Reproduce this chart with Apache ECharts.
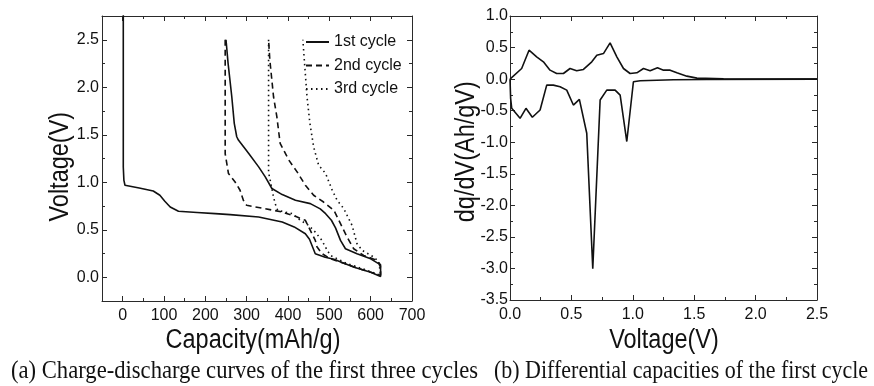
<!DOCTYPE html>
<html>
<head>
<meta charset="utf-8">
<script src="https://cdn.jsdelivr.net/npm/echarts@6/dist/echarts.min.js"></script>
<style>
html,body{margin:0;padding:0;background:#fff;}
#chart{width:874px;height:386px;}
</style>
</head>
<body>
<div id="chart"></div>
<script>
// ---- Panel (a): charge-discharge curves ----
const cycleNames = ['1st cycle', '2nd cycle', '3rd cycle'];
const cap1 = [1.5, 1.5, 3, 5.6, 40, 74, 90, 102, 115, 135, 180, 224, 260, 329, 386, 415, 442, 452, 466, 490, 511, 540, 560, 600, 624, 626, 624, 620, 600, 567, 539, 527, 515, 505, 491, 478, 454, 418, 386, 361, 345, 329, 305, 280, 276, 270, 264, 255, 250];
const volt1 = [3.0, 1.16, 1.02, 0.968, 0.94, 0.908, 0.863, 0.80, 0.74, 0.694, 0.682, 0.670, 0.659, 0.634, 0.581, 0.53, 0.458, 0.40, 0.247, 0.21, 0.19, 0.14, 0.106, 0.053, 0.007, 0.02, 0.106, 0.141, 0.194, 0.247, 0.30, 0.388, 0.52, 0.60, 0.669, 0.72, 0.775, 0.81, 0.870, 0.934, 1.056, 1.162, 1.303, 1.444, 1.479, 1.62, 1.90, 2.254, 2.5];
const cap2 = [248, 248, 256, 272, 284, 292, 300, 345, 385, 418, 442, 454, 466, 470, 482, 500, 540, 580, 624, 625, 624, 612, 583, 559, 543, 527, 511, 486, 462, 442, 422, 402, 381, 373, 365, 356, 353];
const volt2 = [2.5, 1.3, 1.092, 1.003, 0.916, 0.81, 0.757, 0.722, 0.687, 0.641, 0.599, 0.493, 0.388, 0.32, 0.25, 0.2, 0.14, 0.08, 0.02, 0.03, 0.13, 0.184, 0.229, 0.30, 0.423, 0.564, 0.705, 0.792, 0.863, 0.969, 1.109, 1.233, 1.409, 1.69, 1.90, 2.289, 2.5];
const cap3 = [353, 353, 357, 365, 369, 375, 410, 430, 450, 466, 482, 495, 503, 540, 580, 624, 625, 620, 608, 580, 567, 555, 535, 519, 507, 491, 474, 462, 453, 446, 440, 436];
const volt3 = [2.5, 1.1, 1.02, 0.845, 0.775, 0.704, 0.67, 0.599, 0.546, 0.475, 0.388, 0.282, 0.229, 0.15, 0.09, 0.02, 0.03, 0.16, 0.211, 0.282, 0.353, 0.546, 0.722, 0.81, 0.916, 1.092, 1.18, 1.373, 1.62, 1.90, 2.254, 2.5];
const capTicks = [0, 100, 200, 300, 400, 500, 600, 700];
const capMinorTicks = [-50, 50, 150, 250, 350, 450, 550, 650];
const voltTicksA = [0, 0.5, 1.0, 1.5, 2.0, 2.5];
const voltMinorTicksA = [-0.25, 0.25, 0.75, 1.25, 1.75, 2.25, 2.75];

// ---- Panel (b): differential capacity ----
const vCharge = [0, 0.095, 0.155, 0.217, 0.272, 0.326, 0.38, 0.435, 0.489, 0.543, 0.598, 0.666, 0.707, 0.761, 0.815, 0.87, 0.924, 0.978, 1.033, 1.087, 1.141, 1.201, 1.25, 1.304, 1.359, 1.44, 1.522, 1.739, 2.147, 2.5];
const dqCharge = [0, 0.168, 0.458, 0.353, 0.274, 0.142, 0.089, 0.089, 0.168, 0.132, 0.153, 0.274, 0.379, 0.405, 0.574, 0.353, 0.168, 0.089, 0.1, 0.168, 0.132, 0.179, 0.142, 0.142, 0.1, 0.047, 0.016, 0.005, 0, 0];
const vDischarge = [0, 0.005, 0.014, 0.082, 0.13, 0.182, 0.245, 0.299, 0.353, 0.408, 0.462, 0.516, 0.565, 0.625, 0.674, 0.734, 0.788, 0.856, 0.897, 0.951, 1.005, 1.06, 1.332, 1.603, 2.5];
const dqDischarge = [0, -0.3, -0.463, -0.621, -0.463, -0.605, -0.489, -0.095, -0.095, -0.121, -0.174, -0.411, -0.321, -0.858, -3.005, -0.332, -0.174, -0.174, -0.253, -0.989, -0.042, -0.026, -0.011, -0.005, 0];
const vTicksB = [0, 0.5, 1.0, 1.5, 2.0, 2.5];
const vMinorTicksB = [0.25, 0.75, 1.25, 1.75, 2.25];
const dqTicks = [-3.5, -3.0, -2.5, -2.0, -1.5, -1.0, -0.5, 0, 0.5, 1.0];
const dqMinorTicks = [-3.25, -2.75, -2.25, -1.75, -1.25, -0.75, -0.25, 0.25, 0.75];

const zip = (a, b) => a.map((v, i) => [v, b[i]]);
const AX = '#2a2a2a';
const SANS = '"Liberation Sans", Arial, sans-serif';
const SERIF = '"Liberation Serif", "Times New Roman", serif';

function makeAxes(dim, gridIndex, min, max, major, minor, fmt, margin) {
  const pos = dim === 'x' ? ['bottom', 'top'] : ['left', 'right'];
  const out = [];
  pos.forEach((p, pi) => {
    [major, minor].forEach((vals, mi) => {
      const withLabel = pi === 0 && mi === 0;
      out.push({
        type: 'value', gridIndex, min, max, position: p,
        axisLine: { show: mi === 0, onZero: false, lineStyle: { color: AX, width: 1 } },
        axisTick: { show: true, inside: true, length: mi === 0 ? 5 : 3, customValues: vals, lineStyle: { color: AX, width: 1 } },
        axisLabel: withLabel ? { show: true, customValues: vals, formatter: fmt, margin, fontSize: 16, color: '#111', fontFamily: SANS } : { show: false },
        splitLine: { show: false }, minorTick: { show: false }
      });
    });
  });
  return out;
}

const fmt1 = v => Number(v).toFixed(1);
const fmt0 = v => String(Math.round(v));

const xAxes = [].concat(
  makeAxes('x', 0, -50, 700, capTicks, capMinorTicks, fmt0, 7),
  makeAxes('x', 1, 0, 2.5, vTicksB, vMinorTicksB, fmt1, 7)
);
const yAxes = [].concat(
  makeAxes('y', 0, -0.25, 2.75, voltTicksA, voltMinorTicksA, fmt1, 3),
  makeAxes('y', 1, -3.5, 1.0, dqTicks, dqMinorTicks, fmt1, 2)
);

const lineTypes = ['solid', [6, 4], [1.5, 3.5]];
const capData = [zip(cap1, volt1), zip(cap2, volt2), zip(cap3, volt3)];
const series = cycleNames.map((n, i) => ({
  name: n, type: 'line', xAxisIndex: 0, yAxisIndex: 0, data: capData[i],
  symbol: 'none', clip: true, silent: true,
  lineStyle: { color: '#111', width: 1.6, type: lineTypes[i] },
  itemStyle: { color: '#111' }
}));
series.push(
  { name: 'charge', type: 'line', xAxisIndex: 4, yAxisIndex: 4, data: zip(vCharge, dqCharge), symbol: 'none', silent: true, lineStyle: { color: '#111', width: 1.6 } },
  { name: 'discharge', type: 'line', xAxisIndex: 4, yAxisIndex: 4, data: zip(vDischarge, dqDischarge), symbol: 'none', silent: true, lineStyle: { color: '#111', width: 1.6 } }
);

function label(text, x, y, size, opts) {
  return {
    type: 'text', x, y, scaleX: opts.sx || 1, scaleY: 1, rotation: opts.rot || 0,
    style: { text, font: size + 'px ' + (opts.family || SANS), fill: '#111', textAlign: opts.align || 'center', textVerticalAlign: 'middle' }
  };
}

const chart = echarts.init(document.getElementById('chart'), null, { renderer: 'canvas' });
chart.setOption({
  backgroundColor: '#fff',
  animation: false,
  grid: [
    { left: 102, top: 16, width: 310, height: 285 },
    { left: 510, top: 16, width: 307, height: 284 }
  ],
  xAxis: xAxes,
  yAxis: yAxes,
  legend: {
    data: cycleNames, orient: 'vertical', left: 305, top: 34, padding: 0,
    itemWidth: 23, itemHeight: 14, itemGap: 7.5,
    itemStyle: { color: 'rgba(0,0,0,0)', borderWidth: 0, opacity: 0 },
    textStyle: { fontSize: 16, color: '#111', fontFamily: SANS, lineHeight: 16 },
    selectedMode: false
  },
  series,
  graphic: [
    label('Capacity(mAh/g)', 253, 340.5, 27, { sx: 0.87 }),
    label('Voltage(V)', 664, 340.5, 27, { sx: 0.87 }),
    label('Voltage(V)', 61, 166.7, 27, { sx: 0.87, rot: Math.PI / 2 }),
    label('dq/dV(Ah/gV)', 467, 151.7, 27, { sx: 0.87, rot: Math.PI / 2 }),
    label('(a) Charge-discharge curves of the first three cycles', 11, 371, 26, { sx: 0.87, align: 'left', family: SERIF }),
    label('(b) Differential capacities of the first cycle', 494, 371, 26, { sx: 0.845, align: 'left', family: SERIF })
  ]
});
</script>
</body>
</html>
